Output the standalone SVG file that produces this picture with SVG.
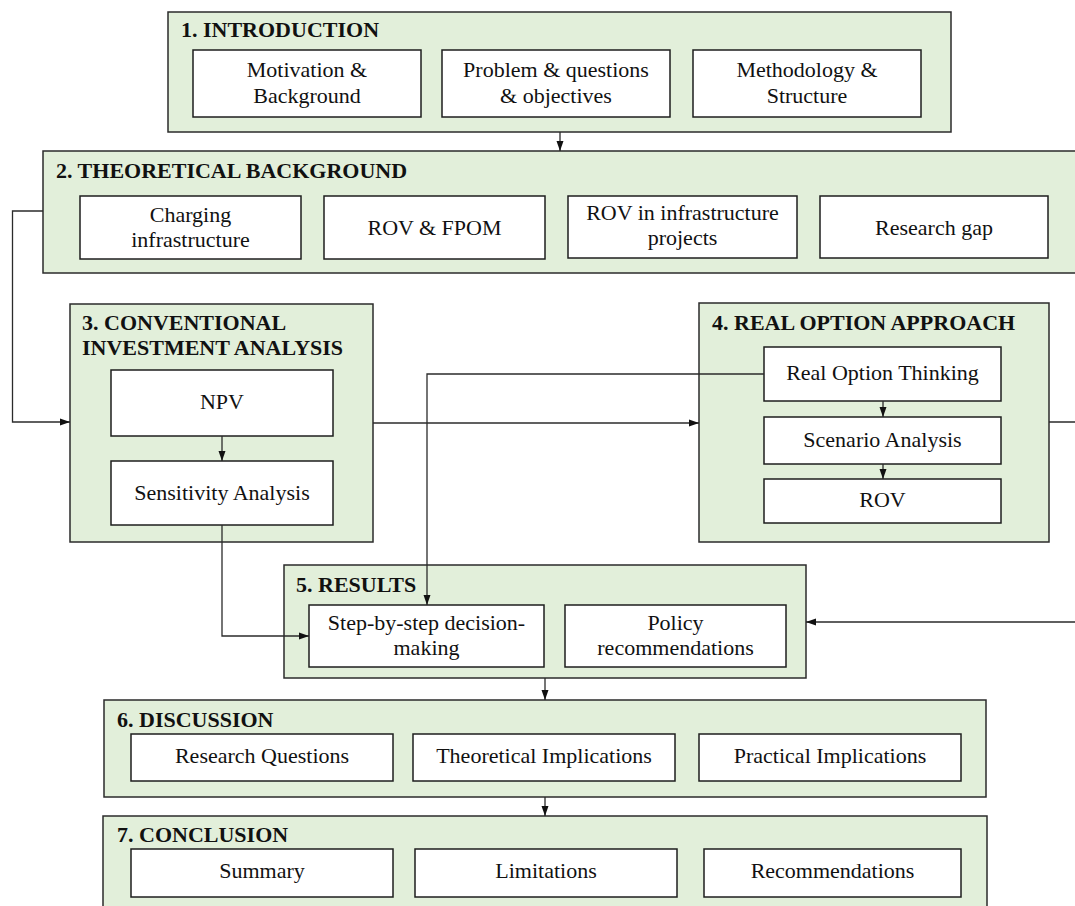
<svg xmlns="http://www.w3.org/2000/svg" width="1075" height="906" viewBox="0 0 1075 906">
<style>
  .sec { fill: #e2efda; stroke: #2b2b2b; stroke-width: 1.5; }
  .box { fill: #ffffff; stroke: #1e1e1e; stroke-width: 1.5; }
  .ttl { font-family: "Liberation Serif", "Times New Roman", serif; font-size: 22px; font-weight: bold; fill: #111; }
  .lbl { font-family: "Liberation Serif", "Times New Roman", serif; font-size: 22px; fill: #111; text-anchor: middle; }
  .con { fill: none; stroke: #2b2b2b; stroke-width: 1.3; }
</style>
<defs>
  <marker id="ah" markerUnits="userSpaceOnUse" markerWidth="10" markerHeight="10" viewBox="0 0 10 10" refX="10" refY="5" orient="auto">
    <path d="M0,1.5 L10,5 L0,8.5 z" fill="#111"/>
  </marker>
</defs>
<rect width="1075" height="906" fill="#ffffff"/>

<g id="sec1">
  <rect class="sec" x="168" y="12" width="783" height="120"/>
  <text class="ttl" x="181" y="37">1. INTRODUCTION</text>
  <g id="n1a"><rect class="box" x="193" y="50" width="228" height="67"/>
    <text class="lbl" x="307" y="77">Motivation &amp;</text><text class="lbl" x="307" y="103">Background</text></g>
  <g id="n1b"><rect class="box" x="442" y="50" width="228" height="67"/>
    <text class="lbl" x="556" y="77">Problem &amp; questions</text><text class="lbl" x="556" y="103">&amp; objectives</text></g>
  <g id="n1c"><rect class="box" x="693" y="50" width="228" height="67"/>
    <text class="lbl" x="807" y="77">Methodology &amp;</text><text class="lbl" x="807" y="103">Structure</text></g>
</g>

<g id="sec2">
  <rect class="sec" x="43" y="151" width="1045" height="122"/>
  <text class="ttl" x="56" y="178">2. THEORETICAL BACKGROUND</text>
  <g id="n2a"><rect class="box" x="80" y="196" width="221" height="63"/>
    <text class="lbl" x="190.5" y="222">Charging</text><text class="lbl" x="190.5" y="247">infrastructure</text></g>
  <g id="n2b"><rect class="box" x="324" y="196" width="221" height="63"/>
    <text class="lbl" x="434.5" y="235">ROV &amp; FPOM</text></g>
  <g id="n2c"><rect class="box" x="568" y="196" width="229" height="62"/>
    <text class="lbl" x="682.5" y="220">ROV in infrastructure</text><text class="lbl" x="682.5" y="245">projects</text></g>
  <g id="n2d"><rect class="box" x="820" y="196" width="228" height="62"/>
    <text class="lbl" x="934" y="235">Research gap</text></g>
</g>

<g id="sec3">
  <rect class="sec" x="70" y="304" width="303" height="238"/>
  <text class="ttl" x="82" y="330">3. CONVENTIONAL</text>
  <text class="ttl" x="82" y="355">INVESTMENT ANALYSIS</text>
  <g id="n3a"><rect class="box" x="111" y="370" width="222" height="66"/>
    <text class="lbl" x="222" y="409">NPV</text></g>
  <g id="n3b"><rect class="box" x="111" y="461" width="222" height="64"/>
    <text class="lbl" x="222" y="500">Sensitivity Analysis</text></g>
</g>

<g id="sec4">
  <rect class="sec" x="699" y="303" width="350" height="239"/>
  <text class="ttl" x="712" y="330">4. REAL OPTION APPROACH</text>
  <g id="n4a"><rect class="box" x="764" y="347" width="237" height="54"/>
    <text class="lbl" x="882.5" y="380">Real Option Thinking</text></g>
  <g id="n4b"><rect class="box" x="764" y="417" width="237" height="47"/>
    <text class="lbl" x="882.5" y="447">Scenario Analysis</text></g>
  <g id="n4c"><rect class="box" x="764" y="479" width="237" height="44"/>
    <text class="lbl" x="882.5" y="507">ROV</text></g>
</g>

<g id="sec5">
  <rect class="sec" x="284" y="565" width="522" height="113"/>
  <text class="ttl" x="296" y="592">5. RESULTS</text>
  <g id="n5a"><rect class="box" x="309" y="605" width="235" height="62"/>
    <text class="lbl" x="426.5" y="630">Step-by-step decision-</text><text class="lbl" x="426.5" y="655">making</text></g>
  <g id="n5b"><rect class="box" x="565" y="605" width="221" height="62"/>
    <text class="lbl" x="675.5" y="630">Policy</text><text class="lbl" x="675.5" y="655">recommendations</text></g>
</g>

<g id="sec6">
  <rect class="sec" x="104" y="700" width="882" height="97"/>
  <text class="ttl" x="117" y="727">6. DISCUSSION</text>
  <g id="n6a"><rect class="box" x="131" y="734" width="262" height="47"/>
    <text class="lbl" x="262" y="763">Research Questions</text></g>
  <g id="n6b"><rect class="box" x="413" y="734" width="262" height="47"/>
    <text class="lbl" x="544" y="763">Theoretical Implications</text></g>
  <g id="n6c"><rect class="box" x="699" y="734" width="262" height="47"/>
    <text class="lbl" x="830" y="763">Practical Implications</text></g>
</g>

<g id="sec7">
  <rect class="sec" x="103" y="816" width="884" height="100"/>
  <text class="ttl" x="117" y="842">7. CONCLUSION</text>
  <g id="n7a"><rect class="box" x="131" y="849" width="262" height="48"/>
    <text class="lbl" x="262" y="878">Summary</text></g>
  <g id="n7b"><rect class="box" x="415" y="849" width="262" height="48"/>
    <text class="lbl" x="546" y="878">Limitations</text></g>
  <g id="n7c"><rect class="box" x="704" y="849" width="257" height="48"/>
    <text class="lbl" x="832.5" y="878">Recommendations</text></g>
</g>

<g id="connectors">
  <path class="con" d="M560,132 V151" marker-end="url(#ah)"/>
  <path class="con" d="M43,211 H12.5 V422 H70" marker-end="url(#ah)"/>
  <path class="con" d="M373,423 H699" marker-end="url(#ah)"/>
  <path class="con" d="M222,436 V461" marker-end="url(#ah)"/>
  <path class="con" d="M883,401 V417" marker-end="url(#ah)"/>
  <path class="con" d="M883,464 V479" marker-end="url(#ah)"/>
  <path class="con" d="M764,374 H427 V605" marker-end="url(#ah)"/>
  <path class="con" d="M222,525 V636 H309" marker-end="url(#ah)"/>
  <path class="con" d="M1049,422 H1095 V622 H806" marker-end="url(#ah)"/>
  <path class="con" d="M545,678 V700" marker-end="url(#ah)"/>
  <path class="con" d="M545,797 V816" marker-end="url(#ah)"/>
</g>
</svg>
